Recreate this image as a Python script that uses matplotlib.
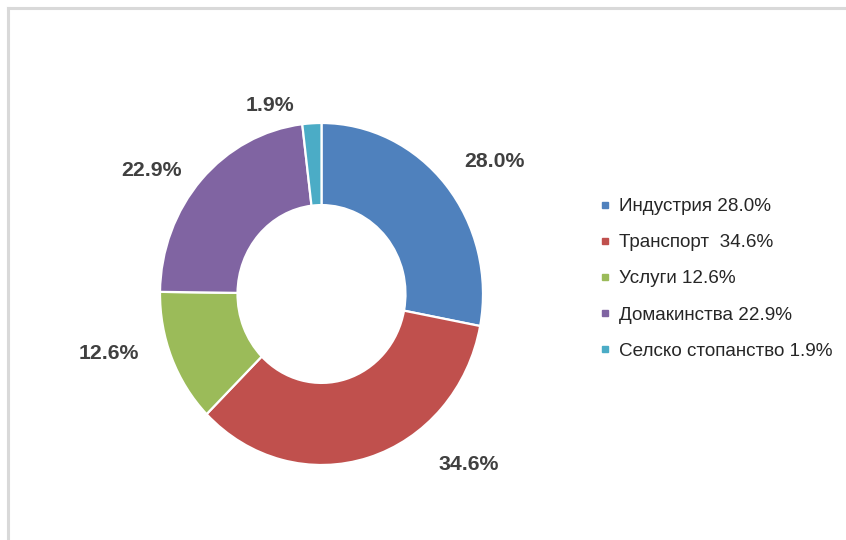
import matplotlib
matplotlib.use('Agg')
import matplotlib.pyplot as plt
from matplotlib.lines import Line2D

# Energy consumption by sector, share in percent
sectors = ['Индустрия', 'Транспорт', 'Услуги', 'Домакинства', 'Селско стопанство']
shares = [28.0, 34.6, 12.6, 22.9, 1.9]
colors = ['#4F81BD', '#C0504D', '#9BBB59', '#8064A2', '#4BACC6']
legend_text = ['Индустрия 28.0%', 'Транспорт  34.6%', 'Услуги 12.6%',
               'Домакинства 22.9%', 'Селско стопанство 1.9%']

# where each value label sits, in pie-radius units
label_pos = [(1.07, 0.772), (0.91, -1.0), (-1.32, -0.35), (-1.05, 0.725), (-0.32, 1.1)]

plt.rcParams['font.family'] = ['Liberation Sans', 'DejaVu Sans']

fig = plt.figure(figsize=(8.46, 5.40), dpi=100)
fig.patch.set_facecolor('white')

# light grey border on the top and left sides
fig.add_artist(Line2D([8 / 846, 1], [1 - 8 / 540, 1 - 8 / 540], transform=fig.transFigure,
                      color='#d9d9d9', linewidth=2.2))
fig.add_artist(Line2D([8 / 846, 8 / 846], [0, 1 - 8 / 540], transform=fig.transFigure,
                      color='#d9d9d9', linewidth=2.2))

ax = fig.add_axes([160 / 846, 75 / 540, 323 / 846, 342 / 540])
wedges, _ = ax.pie(shares, colors=colors, startangle=90, counterclock=False, radius=1.0,
                   wedgeprops=dict(width=0.48, edgecolor='white', linewidth=1.6))
ax.set_aspect('auto')
ax.set_xlim(-1, 1)
ax.set_ylim(-1, 1)
ax.axis('off')

for val, (x, y) in zip(shares, label_pos):
    ax.text(x, y, f'{val:.1f}%', ha='center', va='center', fontsize=15.3,
            fontweight='bold', color='#404040', clip_on=False)

handles = [Line2D([], [], marker='s', linestyle='', color=c, markersize=5) for c in colors]
fig.legend(handles, legend_text, loc='upper left', bbox_to_anchor=(598 / 846, 1 - 198 / 540),
           frameon=False, fontsize=13.6, labelcolor='#262626', handlelength=0.7,
           handletextpad=0.42, labelspacing=1.0, borderaxespad=0, borderpad=0)

fig.savefig('out.png', dpi=100, facecolor='white')
